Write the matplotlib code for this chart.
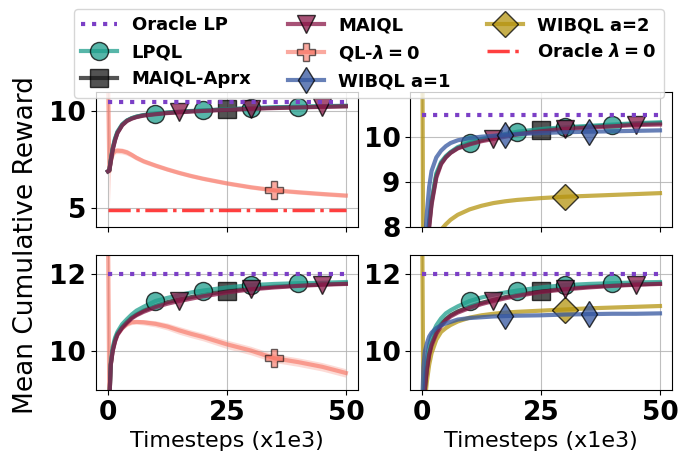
import matplotlib.pyplot as plt

plt.rcParams.update({
    "font.family": "DejaVu Sans",
    "font.weight": "bold",
    "mathtext.fontset": "custom",
    "mathtext.rm": "DejaVu Sans:bold",
    "mathtext.it": "DejaVu Sans:italic:bold",
    "mathtext.bf": "DejaVu Sans:bold",
    "xtick.labelsize": 19,
    "ytick.labelsize": 19,
})

# timesteps (x1e3)
steps = [0, 0.3, 0.6, 1, 1.5, 2, 3, 4, 5, 6, 7.5, 10, 12.5, 15, 17.5, 20,
         25, 30, 35, 40, 45, 50]

# top-left
tl_oracle_lp = 10.5
tl_oracle_l0 = 4.92
tl_lpql = [6.9, 6.95, 7.5, 8.1, 8.6, 8.95, 9.33, 9.53, 9.65, 9.73, 9.81, 9.88,
           9.94, 9.98, 10.02, 10.05, 10.11, 10.17, 10.21, 10.24, 10.27, 10.29]
tl_aprx = [6.9, 6.95, 7.45, 8.05, 8.55, 8.9, 9.3, 9.52, 9.64, 9.72, 9.8, 9.87,
           9.93, 9.97, 10.01, 10.04, 10.1, 10.15, 10.19, 10.22, 10.25, 10.27]
tl_maiql = [6.9, 6.95, 7.4, 8.0, 8.5, 8.88, 9.28, 9.5, 9.62, 9.7, 9.78, 9.85,
            9.91, 9.95, 9.99, 10.02, 10.08, 10.13, 10.17, 10.2, 10.23, 10.26]
tl_ql = [12.5, 6.9, 7.4, 7.8, 7.95, 7.97, 7.95, 7.88, 7.75, 7.6, 7.42, 7.2,
         7.0, 6.82, 6.66, 6.52, 6.28, 6.08, 5.92, 5.82, 5.73, 5.65]
tl_ql_spread = [2.5, 1.9, 0.35, 0.2, 0.15, 0.15, 0.15, 0.15, 0.14, 0.13, 0.12,
                0.11, 0.1, 0.1, 0.1, 0.1, 0.1, 0.1, 0.1, 0.1, 0.1, 0.1]

# bottom-left
bl_oracle_lp = 12.0
bl_lpql = [8.0, 8.7, 9.7, 10.1, 10.35, 10.5, 10.7, 10.83, 10.95, 11.05, 11.15,
           11.3, 11.38, 11.45, 11.52, 11.57, 11.65, 11.71, 11.74, 11.76, 11.77,
           11.79]
bl_aprx = [8.0, 8.7, 9.65, 10.02, 10.28, 10.45, 10.63, 10.76, 10.87, 10.95,
           11.05, 11.17, 11.27, 11.34, 11.4, 11.46, 11.56, 11.62, 11.67, 11.7,
           11.73, 11.75]
bl_maiql = [8.0, 8.7, 9.65, 10.0, 10.25, 10.42, 10.6, 10.73, 10.85, 10.93,
            11.02, 11.14, 11.23, 11.3, 11.36, 11.42, 11.52, 11.6, 11.65, 11.69,
            11.72, 11.74]
bl_ql = [13.5, 8.7, 9.65, 10.05, 10.3, 10.45, 10.6, 10.7, 10.75, 10.76, 10.75,
         10.71, 10.64, 10.54, 10.45, 10.37, 10.18, 10.02, 9.82, 9.72, 9.6, 9.44]
bl_ql_spread = [2.5, 0.4, 0.15, 0.08, 0.06, 0.06, 0.06, 0.06, 0.06, 0.06, 0.07,
                0.08, 0.09, 0.1, 0.1, 0.1, 0.11, 0.11, 0.11, 0.11, 0.11, 0.11]

# top-right
tr_oracle_lp = 10.5
tr_lpql = [6.0, 6.4, 6.9, 7.6, 8.15, 8.6, 9.2, 9.45, 9.58, 9.67, 9.78, 9.88,
           9.96, 10.02, 10.07, 10.12, 10.18, 10.22, 10.25, 10.28, 10.31, 10.33]
tr_aprx = [6.0, 6.3, 6.8, 7.45, 8.05, 8.55, 9.15, 9.42, 9.56, 9.66, 9.76, 9.86,
           9.93, 9.99, 10.04, 10.08, 10.15, 10.2, 10.23, 10.26, 10.29, 10.31]
tr_maiql = [5.8, 6.2, 6.7, 7.4, 8.0, 8.5, 9.1, 9.4, 9.55, 9.65, 9.75, 9.84,
            9.91, 9.96, 10.01, 10.06, 10.13, 10.18, 10.21, 10.24, 10.27, 10.28]
tr_wibql1 = [6.5, 7.0, 7.7, 8.3, 8.9, 9.25, 9.55, 9.7, 9.8, 9.87, 9.93, 9.98,
             10.01, 10.03, 10.05, 10.07, 10.09, 10.11, 10.12, 10.13, 10.14,
             10.15]
tr_wibql2 = [14.0, 5.5, 6.2, 6.7, 7.1, 7.4, 7.75, 7.95, 8.07, 8.17, 8.28, 8.4,
             8.48, 8.54, 8.58, 8.61, 8.65, 8.68, 8.7, 8.72, 8.74, 8.76]

# bottom-right
br_oracle_lp = 12.0
br_lpql = [7.5, 8.5, 9.3, 9.8, 10.15, 10.4, 10.67, 10.85, 10.98, 11.06, 11.16,
           11.3, 11.39, 11.46, 11.52, 11.57, 11.65, 11.71, 11.74, 11.76, 11.78,
           11.79]
br_aprx = [7.5, 8.3, 9.05, 9.55, 9.95, 10.2, 10.5, 10.7, 10.83, 10.93, 11.03,
           11.15, 11.25, 11.33, 11.4, 11.46, 11.55, 11.62, 11.67, 11.7, 11.73,
           11.75]
br_maiql = [7.5, 8.3, 9.0, 9.5, 9.9, 10.15, 10.45, 10.65, 10.8, 10.9, 11.0,
            11.12, 11.22, 11.3, 11.37, 11.43, 11.53, 11.6, 11.65, 11.69, 11.72,
            11.74]
br_wibql1 = [8.5, 9.6, 10.0, 10.2, 10.38, 10.48, 10.6, 10.67, 10.72, 10.76,
             10.82, 10.86, 10.88, 10.9, 10.91, 10.92, 10.93, 10.95, 10.96,
             10.97, 10.97, 10.98]
br_wibql2 = [14.0, 8.0, 8.7, 9.2, 9.65, 9.95, 10.3, 10.5, 10.6, 10.68, 10.77,
             10.87, 10.93, 10.97, 11.0, 11.02, 11.05, 11.08, 11.11, 11.13,
             11.15, 11.17]

# where each method puts its markers
lpql_marks = [10, 20, 30, 40]
maiql_marks = [15, 30, 45]
aprx_marks = [25]
ql_marks = [35]
wibql1_marks = [17.5, 35]
wibql2_marks = [30]

LBL_QL = r"QL-$\lambda = 0$"
LBL_OL0 = r"Oracle $\lambda = 0$"

STYLE = {
    "LPQL": dict(color="#1f9e8c", marker="o", marks=lpql_marks, alpha=0.75),
    "MAIQL-Aprx": dict(color="#1a1a1a", marker="s", marks=aprx_marks,
                       alpha=0.75),
    "MAIQL": dict(color="#8a1848", marker="v", marks=maiql_marks, alpha=0.75),
    LBL_QL: dict(color="#f7705f", marker="P", marks=ql_marks, alpha=0.6),
    "WIBQL a=1": dict(color="#34569f", marker="d", marks=wibql1_marks,
                      alpha=0.75),
    "WIBQL a=2": dict(color="#b59410", marker="D", marks=wibql2_marks,
                      alpha=0.75),
}


def curve(ax, name, values, spread=None):
    st = STYLE[name]
    idx = [steps.index(m) for m in st["marks"]]
    ax.plot(steps, values, color=st["color"], lw=3, alpha=st["alpha"],
            marker=st["marker"], ms=13, mec="black", mew=1,
            markevery=idx, label=name)
    if spread is not None:
        lo = [v - s for v, s in zip(values, spread)]
        hi = [v + s for v, s in zip(values, spread)]
        ax.fill_between(steps, lo, hi, color=st["color"], alpha=0.25, lw=0)


def oracle_lp(ax, value):
    ax.plot([steps[0], steps[-1]], [value, value], color="#7b3fc6", ls=":",
            lw=3, label="Oracle LP", zorder=3)


def oracle_l0(ax, value):
    ax.plot([steps[0], steps[-1]], [value, value], color="#ff2a2a", ls="-.",
            lw=2.5, alpha=0.9, label=LBL_OL0, zorder=3)


fig, axes = plt.subplots(2, 2, figsize=(6.78, 4.57), dpi=100, sharex=True)
fig.subplots_adjust(left=0.1416, right=0.991, top=0.7987, bottom=0.1466,
                    wspace=0.2, hspace=0.2)
ax_tl, ax_tr = axes[0]
ax_bl, ax_br = axes[1]

# left column: QL baseline
curve(ax_tl, LBL_QL, tl_ql, tl_ql_spread)
curve(ax_tl, "MAIQL-Aprx", tl_aprx)
curve(ax_tl, "LPQL", tl_lpql)
curve(ax_tl, "MAIQL", tl_maiql)
oracle_lp(ax_tl, tl_oracle_lp)
oracle_l0(ax_tl, tl_oracle_l0)

curve(ax_bl, LBL_QL, bl_ql, bl_ql_spread)
curve(ax_bl, "MAIQL-Aprx", bl_aprx)
curve(ax_bl, "LPQL", bl_lpql)
curve(ax_bl, "MAIQL", bl_maiql)
oracle_lp(ax_bl, bl_oracle_lp)

# right column: WIBQL variants
curve(ax_tr, "WIBQL a=2", tr_wibql2)
curve(ax_tr, "MAIQL-Aprx", tr_aprx)
curve(ax_tr, "LPQL", tr_lpql)
curve(ax_tr, "MAIQL", tr_maiql)
curve(ax_tr, "WIBQL a=1", tr_wibql1)
oracle_lp(ax_tr, tr_oracle_lp)

curve(ax_br, "WIBQL a=2", br_wibql2)
curve(ax_br, "MAIQL-Aprx", br_aprx)
curve(ax_br, "LPQL", br_lpql)
curve(ax_br, "MAIQL", br_maiql)
curve(ax_br, "WIBQL a=1", br_wibql1)
oracle_lp(ax_br, br_oracle_lp)

ax_tl.set_ylim(4.0, 11.0)
ax_tl.set_yticks([5, 10])
ax_tr.set_ylim(8.0, 11.0)
ax_tr.set_yticks([8, 9, 10])
ax_bl.set_ylim(9.0, 12.5)
ax_bl.set_yticks([10, 12])
ax_br.set_ylim(9.0, 12.5)
ax_br.set_yticks([10, 12])

for ax in axes.flat:
    ax.set_xlim(-2.5, 52.5)
    ax.set_xticks([0, 25, 50])
    ax.grid(True, color="#b0b0b0", lw=0.8, alpha=0.8)
for ax in axes[1]:
    ax.set_xlabel("Timesteps (x1e3)", fontsize=16, fontweight="normal")

fig.text(0.038, 0.463, "Mean Cumulative Reward", rotation=90, ha="center",
         va="center", fontsize=19, fontweight="normal")

order = ["Oracle LP", "LPQL", "MAIQL-Aprx", "MAIQL", LBL_QL, "WIBQL a=1",
         "WIBQL a=2", LBL_OL0]
found = {}
for ax in axes.flat:
    for h, l in zip(*ax.get_legend_handles_labels()):
        found.setdefault(l, h)
fig.legend([found[l] for l in order], order, loc="upper center",
           bbox_to_anchor=(0.544, 1.0), ncol=3, fontsize=13)

fig.savefig("out.png", dpi=100)
